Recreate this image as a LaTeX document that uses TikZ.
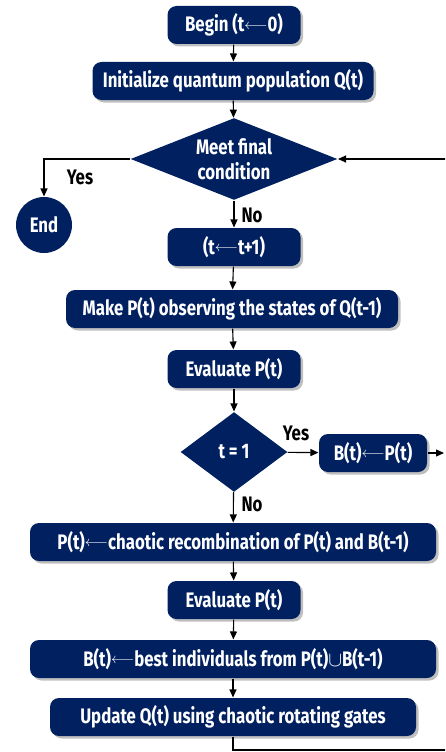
\documentclass[tikz,border=0pt]{standalone}
\usepackage{fontspec}
\setmainfont{Fira Sans}[FakeStretch=0.80]
\usetikzlibrary{shapes.geometric,arrows.meta,shadows}
\definecolor{navy}{HTML}{002060}
\newcommand{\larr}{\raisebox{2.5pt}{\fontsize{14}{14}\selectfont$\longleftarrow$}}
\begin{document}
\begin{tikzpicture}[x=1pt,y=-1pt,>={Triangle[length=8pt,width=7pt]},line width=1.1pt,
        box/.style={rectangle,rounded corners=9pt,fill=navy,text=white,
            font=\bfseries\fontsize{21}{24}\selectfont,minimum height=38pt,inner sep=2pt,
            drop shadow={shadow xshift=2.5pt,shadow yshift=-2.5pt,opacity=0.5}},
        test/.style={diamond,fill=navy,text=white,inner sep=0pt,align=center,
            font=\bfseries\fontsize{21}{25}\selectfont},
        lbl/.style={font=\bfseries\fontsize{21}{24}\selectfont,inner sep=1pt}]
            \useasboundingbox (0,0) rectangle (445,752);
            \clip (0,0) rectangle (445,752);
            \node[box,minimum width=133pt] (begin) at (234,25) {Begin (t\larr0)};
            \node[box,minimum width=281pt] (init) at (233,81) {Initialize quantum population Q(t)};
            \node[test,minimum width=207pt,minimum height=82pt,aspect=2.5] (cond) at (234,159) {Meet final\\condition};
            \node[circle,fill=navy,text=white,minimum size=56pt,inner sep=0pt,
                font=\bfseries\fontsize{21}{24}\selectfont] (end) at (44,225) {End};
            \node[box,minimum width=133pt] (inc) at (234,247) {(t\larr t+1)};
            \node[box,minimum width=332pt] (make) at (232,309) {Make P(t) observing the states of Q(t-1)};
            \node[box,minimum width=133pt] (eval) at (234,369) {Evaluate P(t)};
            \node[test,minimum width=107pt,minimum height=80pt,aspect=1.3] (first) at (234,452) {t = 1};
            \node[box,minimum width=108pt] (best) at (373,453) {B(t)\larr P(t)};
            \node[box,minimum width=406pt] (recomb) at (233,542) {P(t)\larr chaotic recombination of P(t) and B(t-1)};
            \node[box,minimum width=133pt] (evalb) at (234,600) {Evaluate P(t)};
            \node[box,minimum width=406pt] (keep) at (233,659) {B(t)\larr best individuals from P(t)$\cup$B(t-1)};
            \node[box,minimum width=366pt] (update) at (233,717) {Update Q(t) using chaotic rotating gates};
            \coordinate (out) at (444,453);
            \coordinate (back) at (447,750);
            \draw[->] (begin) -- (init);
            \draw[->] (init) -- (cond);
            \draw[->] (cond.west) -| (end.north);
            \draw[->] (cond) -- (inc);
            \draw[->] (inc) -- (make);
            \draw[->] (make) -- (eval);
            \draw[->] (eval) -- (first);
            \draw[->] (first) -- (best);
            \draw[->] (best) -- (out);
            \draw[->] (first) -- (recomb);
            \draw[->] (recomb) -- (evalb);
            \draw[->] (evalb) -- (keep);
            \draw[->] (keep) -- (update);
            \draw[->] (update.south) |- (back) |- (cond.east);
            \node[lbl] (yes) at (80,177) {Yes};
            \node[lbl] (no) at (252,215) {No};
            \node[lbl] (yesb) at (296,433) {Yes};
            \node[lbl] (nob) at (252,504) {No};
        \end{tikzpicture}
\end{document}
